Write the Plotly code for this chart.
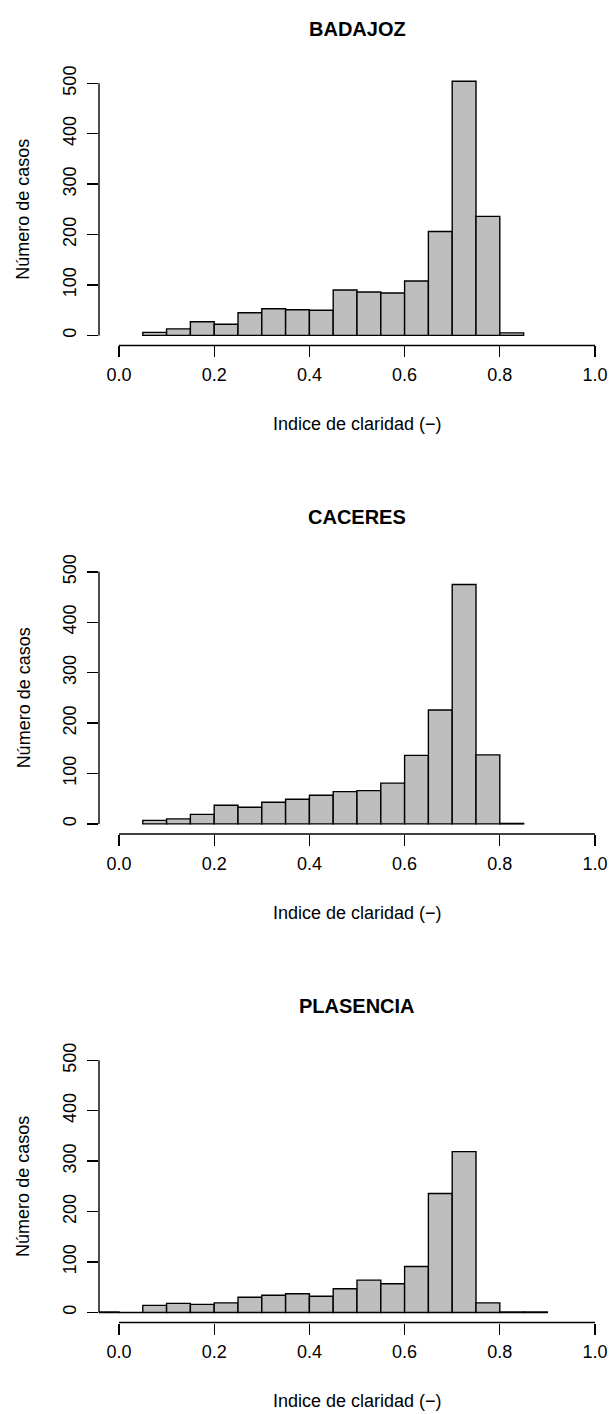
import plotly.graph_objects as go

# ---------------- data ----------------
panel_titles = ["BADAJOZ", "CACERES", "PLASENCIA"]

badajoz_breaks = [0.05, 0.10, 0.15, 0.20, 0.25, 0.30, 0.35, 0.40, 0.45,
                  0.50, 0.55, 0.60, 0.65, 0.70, 0.75, 0.80, 0.85]
badajoz_counts = [6, 13, 27, 22, 45, 53, 51, 50, 90, 86, 84, 108, 206, 504, 236, 5]

caceres_breaks = [0.05, 0.10, 0.15, 0.20, 0.25, 0.30, 0.35, 0.40, 0.45,
                  0.50, 0.55, 0.60, 0.65, 0.70, 0.75, 0.80, 0.85]
caceres_counts = [7, 10, 19, 37, 33, 43, 49, 57, 64, 66, 81, 136, 226, 475, 137, 1]

plasencia_breaks = [-0.05, 0.00, 0.05, 0.10, 0.15, 0.20, 0.25, 0.30, 0.35, 0.40,
                    0.45, 0.50, 0.55, 0.60, 0.65, 0.70, 0.75, 0.80, 0.85, 0.90]
plasencia_counts = [1, 0, 14, 18, 16, 19, 30, 34, 37, 32, 47, 64, 57, 91, 236, 319, 19, 1, 1]

x_tickvals = [0.0, 0.2, 0.4, 0.6, 0.8, 1.0]
x_ticktext = ["0.0", "0.2", "0.4", "0.6", "0.8", "1.0"]
y_tickvals = [0, 100, 200, 300, 400, 500]
y_ticktext = ["0", "100", "200", "300", "400", "500"]

x_label = "Indice de claridad (\u2212)"
y_label = "Número de casos"

# ---------------- layout helpers ----------------
W, H = 610, 1414
FONT = "Liberation Sans, Arial, Helvetica, sans-serif"
PANEL_STEP = 491.3
X_RANGE = [-0.042, 1.0315]
Y_RANGE = [-20, 520]
LW = 1.4

panels = [
    (badajoz_breaks, badajoz_counts),
    (caceres_breaks, caceres_counts),
    (plasencia_breaks, plasencia_counts),
]

fig = go.Figure()
layout = dict(
    width=W, height=H,
    margin=dict(l=0, r=0, t=0, b=0),
    paper_bgcolor="white", plot_bgcolor="white",
    showlegend=False,
    font=dict(family=FONT, size=18, color="black"),
)
annotations = []
shapes = []

for k, (breaks, counts) in enumerate(panels):
    off = PANEL_STEP * k
    top_px = 65.6 + off
    bot_px = 339.4 + off
    xa = "xaxis" if k == 0 else f"xaxis{k+1}"
    ya = "yaxis" if k == 0 else f"yaxis{k+1}"
    xr = "x" if k == 0 else f"x{k+1}"
    yr = "y" if k == 0 else f"y{k+1}"

    mids = [(breaks[i] + breaks[i + 1]) / 2 for i in range(len(counts))]
    widths = [breaks[i + 1] - breaks[i] for i in range(len(counts))]
    fig.add_trace(go.Bar(
        x=mids, y=counts, width=widths,
        marker=dict(color="#BEBEBE", line=dict(color="black", width=LW)),
        xaxis=xr, yaxis=yr, hoverinfo="skip",
    ))

    layout[xa] = dict(
        domain=[99 / W, 1.0], range=X_RANGE, anchor=yr,
        tickvals=x_tickvals, ticktext=x_ticktext,
        ticks="outside", ticklen=11, tickwidth=LW, tickcolor="black",
        showline=False, showgrid=False, zeroline=False,
        tickfont=dict(family=FONT, size=18, color="black"),
        ticklabelstandoff=2,
    )
    layout[ya] = dict(
        domain=[1 - bot_px / H, 1 - top_px / H], range=Y_RANGE, anchor=xr,
        tickvals=y_tickvals, ticktext=y_ticktext, tickangle=-90,
        ticks="outside", ticklen=11, tickwidth=LW, tickcolor="black",
        showline=False, showgrid=False, zeroline=False,
        tickfont=dict(family=FONT, size=18, color="black"),
        ticklabelstandoff=4,
    )

    # R-style axis lines spanning only the tick range
    shapes.append(dict(type="line", xref=xr, yref=f"{yr} domain",
                       x0=x_tickvals[0], x1=x_tickvals[-1], y0=0, y1=0,
                       line=dict(color="black", width=LW)))
    shapes.append(dict(type="line", xref=f"{xr} domain", yref=yr,
                       x0=0, x1=0, y0=y_tickvals[0], y1=y_tickvals[-1],
                       line=dict(color="black", width=LW)))

    annotations.append(dict(
        text=f"<b>{panel_titles[k]}</b>", xref="paper", yref="paper",
        x=357 / W, y=1 - (21 + off) / H, xanchor="center", yanchor="middle",
        showarrow=False, font=dict(family=FONT, size=20, color="black")))
    annotations.append(dict(
        text=x_label, xref="paper", yref="paper",
        x=357 / W, y=1 - (418.7 + off) / H, xanchor="center", yanchor="middle",
        showarrow=False, font=dict(family=FONT, size=18, color="black")))
    annotations.append(dict(
        text=y_label, xref="paper", yref="paper", textangle=-90,
        x=23.5 / W, y=1 - (202.5 + off) / H, xanchor="center", yanchor="middle",
        showarrow=False, font=dict(family=FONT, size=18, color="black")))

layout["annotations"] = annotations
layout["shapes"] = shapes
fig.update_layout(**layout)

post_js = (
    "document.documentElement.style.margin='0';"
    "document.documentElement.style.overflow='hidden';"
    "document.body.style.margin='0';"
    "document.body.style.overflow='hidden';"
    "var g=document.getElementsByClassName('plotly-graph-div')[0];"
    "g.style.position='absolute';g.style.left='0px';g.style.top='0px';"
)
fig.write_html(
    "out.html",
    config={"displayModeBar": False, "staticPlot": True},
    post_script=post_js,
)
